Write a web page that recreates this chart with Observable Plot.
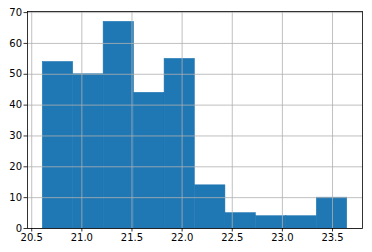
<!DOCTYPE html>
<html>
<head>
<meta charset="utf-8">
<script src="https://cdn.jsdelivr.net/npm/d3@7"></script>
<script src="https://cdn.jsdelivr.net/npm/@observablehq/plot@0.6"></script>
<style>
  html, body { margin: 0; padding: 0; background: #fff; }
</style>
</head>
<body>
<div id="chart"></div>
<script>
const binEdges = [20.61, 20.914, 21.217, 21.521, 21.825, 22.128, 22.432, 22.736, 23.040, 23.343, 23.647];
const counts = [54, 50, 67, 44, 55, 14, 5, 4, 4, 10];
const xTicks = [20.5, 21.0, 21.5, 22.0, 22.5, 23.0, 23.5];
const yTicks = [0, 10, 20, 30, 40, 50, 60, 70];

const bins = counts.map((c, i) => ({x1: binEdges[i], x2: binEdges[i + 1], y: c}));

const chart = Plot.plot({
  width: 372,
  height: 252,
  marginLeft: 27,
  marginRight: 10,
  marginTop: 11,
  marginBottom: 24,
  style: {fontFamily: "DejaVu Sans", fontSize: "10px", color: "#000", background: "#fff"},
  x: {domain: [20.458, 23.799], label: null},
  y: {domain: [0, 70.35], label: null},
  marks: [
    Plot.rectY(bins, {x1: "x1", x2: "x2", y: "y", fill: "#1f77b4", stroke: "#1f77b4", strokeWidth: 0.5, inset: 0}),
    Plot.gridX(xTicks, {stroke: "#b0b0b0", strokeOpacity: 1, strokeWidth: 0.8}),
    Plot.gridY(yTicks, {stroke: "#b0b0b0", strokeOpacity: 1, strokeWidth: 0.8}),
    Plot.frame({stroke: "#000", strokeWidth: 0.8}),
    Plot.axisX(xTicks, {tickFormat: d3.format(".1f"), tickSize: 3.5, tickPadding: 2, stroke: "#000", strokeWidth: 0.8, label: null, fontSize: 10}),
    Plot.axisY(yTicks, {tickSize: 3.5, tickPadding: 2, stroke: "#000", strokeWidth: 0.8, label: null, fontSize: 10})
  ]
});
document.getElementById("chart").appendChild(chart);
</script>
</body>
</html>
